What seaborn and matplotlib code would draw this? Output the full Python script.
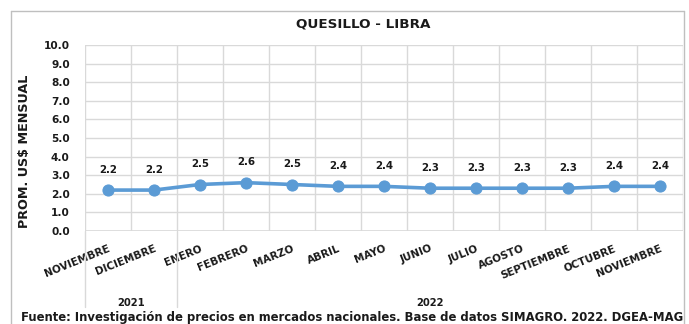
import numpy as np
import pandas as pd
import matplotlib
matplotlib.use("Agg")
import matplotlib.pyplot as plt
import seaborn as sns
from matplotlib.lines import Line2D

# Monthly average price of quesillo (US$ per pound)
months = ["NOVIEMBRE", "DICIEMBRE", "ENERO", "FEBRERO", "MARZO", "ABRIL", "MAYO",
          "JUNIO", "JULIO", "AGOSTO", "SEPTIEMBRE", "OCTUBRE", "NOVIEMBRE"]
years = ["2021", "2022"]
year_span = [2, 11]  # number of months in each year group
prices = [2.2, 2.2, 2.5, 2.6, 2.5, 2.4, 2.4, 2.3, 2.3, 2.3, 2.3, 2.4, 2.4]
y_ticks = [0.0, 1.0, 2.0, 3.0, 4.0, 5.0, 6.0, 7.0, 8.0, 9.0, 10.0]

title = "QUESILLO - LIBRA"
ylabel = "PROM. US$ MENSUAL"
source = ("Fuente: Investigación de precios en mercados nacionales. "
          "Base de datos SIMAGRO. 2022. DGEA-MAG")

sns.set_theme(style="white")
plt.rcParams["font.family"] = ["DejaVu Sans"]
plt.rcParams["font.weight"] = "bold"

TXT = "#1a1a1a"
W, H = 689, 324
fig = plt.figure(figsize=(W / 100, H / 100), dpi=100)
fig.patch.set_facecolor("white")

x0, x1, ytop, ybot = 85, 683, 45, 231
ax = fig.add_axes([x0 / W, 1 - ybot / H, (x1 - x0) / W, (ybot - ytop) / H])

df = pd.DataFrame({"pos": np.arange(len(months)), "price": prices})
line_color = "#5B9BD5"
sns.lineplot(data=df, x="pos", y="price", ax=ax, color=line_color, linewidth=2.6,
             marker="o", markersize=8, markeredgecolor=line_color, zorder=3)

ax.set_xlim(-0.5, len(months) - 0.5)
ax.set_ylim(0, 10)
ax.set_yticks(y_ticks)
ax.set_yticklabels([f"{v:.1f}" for v in y_ticks], fontsize=7.6, fontweight="bold",
                   color=TXT)
ax.set_xticks(np.arange(len(months)))
ax.set_xticklabels(months, rotation=22, ha="right", rotation_mode="anchor",
                   fontsize=7.5, fontweight="bold", color=TXT)
ax.tick_params(axis="x", length=0, pad=9)
ax.tick_params(axis="y", length=0, pad=11)
ax.set_xticks(np.arange(-0.5, len(months)), minor=True)
ax.tick_params(axis="x", which="minor", length=0)

grid_c = "#D9D9D9"
ax.grid(True, axis="y", which="major", color=grid_c, linewidth=1)
ax.grid(True, axis="x", which="minor", color=grid_c, linewidth=1)
ax.grid(False, axis="x", which="major")
for side in ["top", "right", "left", "bottom"]:
    ax.spines[side].set_visible(False)
ax.axhline(0, color=grid_c, linewidth=1.2, zorder=2)
ax.set_axisbelow(True)
ax.set_xlabel("")
ax.set_ylabel("")

fig.text(25 / W, 1 - 151 / H, ylabel, rotation=90, ha="center", va="center",
         fontsize=9.2, fontweight="bold", color=TXT)

for i, v in enumerate(prices):
    ax.annotate(f"{v:.1f}", (i, v), xytext=(0, 11), textcoords="offset points",
                ha="center", va="bottom", fontsize=7.4, fontweight="bold", color=TXT)

# Year grouping under the month labels
trans = ax.get_xaxis_transform()
start = -0.5
bounds = [start]
for span in year_span:
    start += span
    bounds.append(start)
for b in bounds[:-1]:
    ax.add_line(Line2D([b, b], [0, -76 / (ybot - ytop)], transform=trans,
                       color=grid_c, linewidth=1, clip_on=False))
for yr, a, b in zip(years, bounds[:-1], bounds[1:]):
    ax.text((a + b) / 2, -72 / (ybot - ytop), yr, transform=trans, ha="center",
            va="center", fontsize=7.2, fontweight="bold", color=TXT)

fig.text(363 / W, 1 - 24 / H, title, ha="center", va="center", fontsize=9.7,
         fontweight="bold", color=TXT)

# Chart frame
frame_c = "#BFBFBF"
fig.add_artist(Line2D([11 / W, 11 / W], [0, 1 - 11 / H], color=frame_c, linewidth=1))
fig.add_artist(Line2D([11 / W, 684 / W], [1 - 11 / H, 1 - 11 / H], color=frame_c, linewidth=1))
fig.add_artist(Line2D([684 / W, 684 / W], [0, 1 - 11 / H], color=frame_c, linewidth=1))

fig.text(352 / W, 1 - 317 / H, source, ha="center", va="center", fontsize=8.4,
         fontweight="bold", color=TXT)

fig.savefig("out.png", dpi=100, facecolor="white")
